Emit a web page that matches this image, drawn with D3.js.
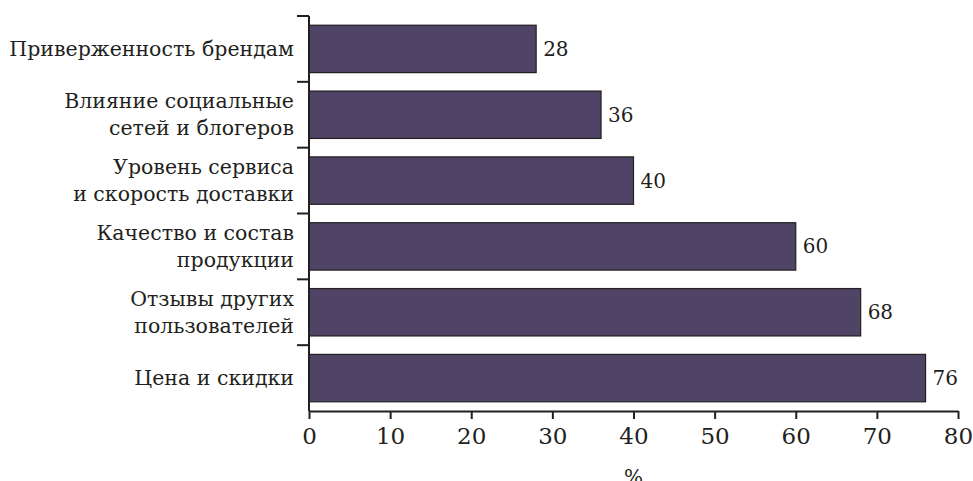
<!DOCTYPE html>
<html>
<head>
<meta charset="utf-8">
<script src="https://cdn.jsdelivr.net/npm/d3@7"></script>
<style>
  body { margin: 0; background: #fff; }
</style>
</head>
<body>
<script>
// factors of choice, top to bottom
var categories = [
  ["Приверженность брендам"],
  ["Влияние социальные", "сетей и блогеров"],
  ["Уровень сервиса", "и скорость доставки"],
  ["Качество и состав", "продукции"],
  ["Отзывы других", "пользователей"],
  ["Цена и скидки"]
];
var values = [28, 36, 40, 60, 68, 76];
var xTicks = [0, 10, 20, 30, 40, 50, 60, 70, 80];
var axisTitle = "%";

var width = 973,
    height = 481,
    plotLeft = 309,
    plotRight = 958,
    plotTop = 16,
    plotBottom = 411,
    serif = "DejaVu Serif",
    ink = "#231f20";

var svg = d3.select("body").append("svg")
  .attr("width", width)
  .attr("height", height)
  .attr("font-family", serif);

var x = d3.scaleLinear()
  .domain([0, 80])
  .range([plotLeft, plotRight]);

var y = d3.scaleBand()
  .domain(d3.range(categories.length))
  .range([plotTop, plotBottom])
  .paddingInner(0.28)
  .paddingOuter(0.14);

// bars
svg.selectAll(".bar")
  .data(values)
  .enter().append("rect")
  .attr("class", "bar")
  .attr("x", x(0))
  .attr("y", function(d, i) { return y(i); })
  .attr("width", function(d) { return x(d) - x(0); })
  .attr("height", y.bandwidth())
  .attr("fill", "#4f4466")
  .attr("stroke", ink)
  .attr("stroke-width", 1.2);

// value labels
svg.selectAll(".val")
  .data(values)
  .enter().append("text")
  .attr("class", "val")
  .attr("x", function(d) { return x(d) + 7; })
  .attr("y", function(d, i) { return y(i) + y.bandwidth() / 2 + 7; })
  .attr("font-family", serif)
  .attr("font-size", 20)
  .attr("fill", ink)
  .text(function(d) { return d; });

// category labels
var labels = svg.selectAll(".cat")
  .data(categories)
  .enter().append("text")
  .attr("class", "cat")
  .attr("text-anchor", "end")
  .attr("font-family", serif)
  .attr("font-size", 20.5)
  .attr("fill", ink);

labels.each(function(lines, i) {
  var c = y(i) + y.bandwidth() / 2;
  var first = c + 7 - (lines.length - 1) * 13.5;
  d3.select(this).selectAll("tspan")
    .data(lines)
    .enter().append("tspan")
    .attr("x", plotLeft - 15)
    .attr("y", function(d, j) { return first + j * 27; })
    .text(function(d) { return d; });
});

// y axis: ticks at band boundaries
svg.append("line")
  .attr("x1", plotLeft).attr("x2", plotLeft)
  .attr("y1", plotTop).attr("y2", plotBottom)
  .attr("stroke", ink).attr("stroke-width", 2);

var gap = y.step() * y.paddingInner() / 2;
svg.selectAll(".ytick")
  .data(d3.range(categories.length))
  .enter().append("line")
  .attr("class", "ytick")
  .attr("x1", plotLeft - 12).attr("x2", plotLeft)
  .attr("y1", function(d) { return d === 0 ? plotTop : y(d) - gap; })
  .attr("y2", function(d) { return d === 0 ? plotTop : y(d) - gap; })
  .attr("stroke", ink).attr("stroke-width", 2);

// x axis
var xAxis = svg.append("g")
  .attr("transform", "translate(0," + plotBottom + ")")
  .call(d3.axisBottom(x).tickValues(xTicks).tickSize(8).tickSizeOuter(0).tickPadding(9));

xAxis.attr("font-family", serif).attr("font-size", null);
xAxis.select(".domain").attr("stroke", ink).attr("stroke-width", 2);
xAxis.selectAll(".tick line").attr("stroke", ink).attr("stroke-width", 2);
xAxis.selectAll(".tick text")
  .attr("font-family", serif)
  .attr("font-size", 23)
  .attr("fill", ink);

svg.append("text")
  .attr("x", (plotLeft + plotRight) / 2)
  .attr("y", 484)
  .attr("text-anchor", "middle")
  .attr("font-family", serif)
  .attr("font-size", 20)
  .attr("fill", ink)
  .text(axisTitle);
</script>
</body>
</html>
